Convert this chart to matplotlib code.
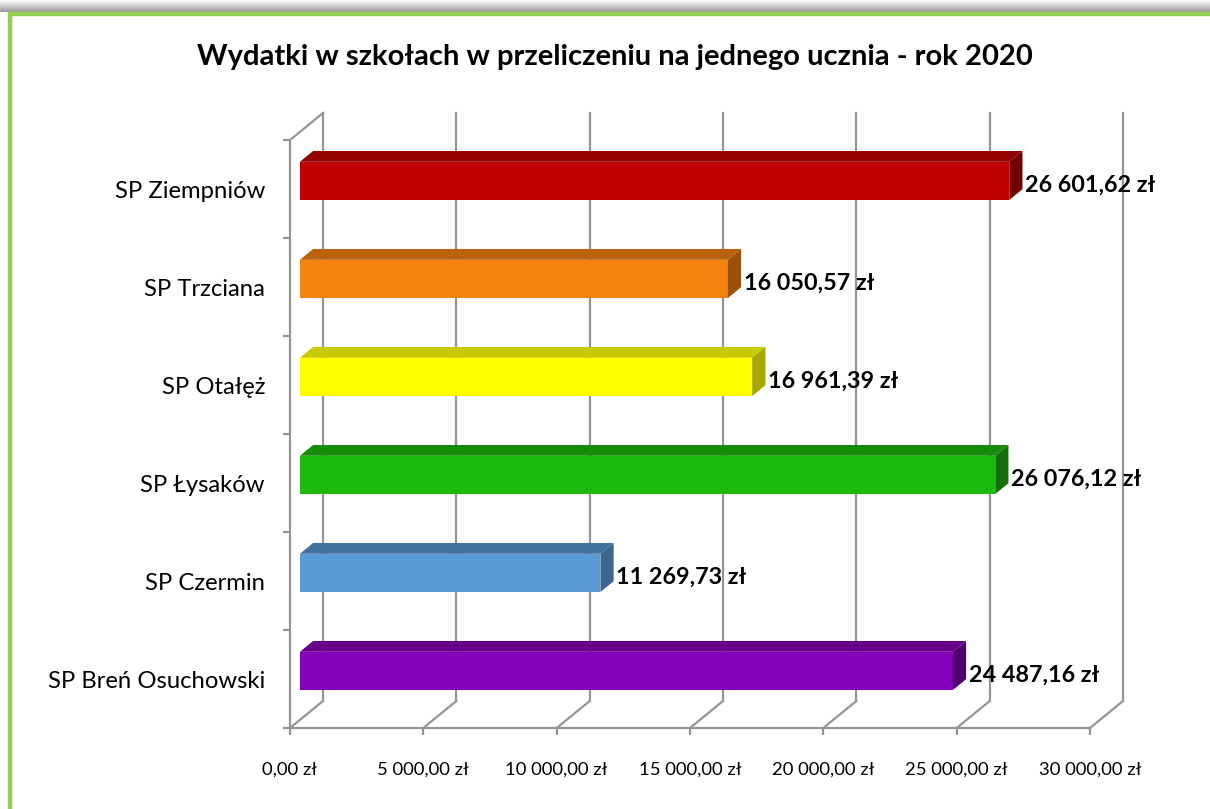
import matplotlib
matplotlib.use('Agg')
import matplotlib.pyplot as plt
from matplotlib.patches import Polygon, Rectangle
import numpy as np

# data (bottom to top as drawn)
schools = ['SP Breń Osuchowski', 'SP Czermin', 'SP Łysaków', 'SP Otałęż', 'SP Trzciana', 'SP Ziempniów']
values = [24487.16, 11269.73, 26076.12, 16961.39, 16050.57, 26601.62]
front_colors = ['#8500BA', '#5B9BD5', '#1DB90C', '#FFFF00', '#F4820F', '#C00000']
top_colors = ['#640089', '#41719C', '#178C08', '#CACA00', '#BA620D', '#920000']
side_colors = ['#4F006E', '#3A6690', '#127006', '#A8A800', '#9C5209', '#720000']
xticks = [0, 5000, 10000, 15000, 20000, 25000, 30000]
title = 'Wydatki w szkołach w przeliczeniu na jednego ucznia - rok 2020'

FONT = 'Lato'
GRID = '#959595'


def zl(v):
    return f"{v:,.2f}".replace(',', ' ').replace('.', ',') + ' zł'


fig = plt.figure(figsize=(12.1, 8.09), dpi=100)
W, H = 1210, 809

# shadow strip above the frame + green frame
sh = fig.add_axes([0, 1 - 12 / H, 1, 12 / H])
grad = np.linspace(1.0, 0.6, 50).reshape(-1, 1)
sh.imshow(grad, aspect='auto', cmap='gray', vmin=0, vmax=1, extent=[0, 1, 0, 1], origin='upper')
sh.axis('off')
fig.patches.append(Rectangle((10 / W, -0.05), 1.2, 1 - 14 / H + 0.05, transform=fig.transFigure,
                             fill=False, edgecolor='#92D050', linewidth=3.2, zorder=10))

ax = fig.add_axes([290 / W, 81 / H, 800 / W, 588 / H])
n = len(schools)
ax.set_xlim(0, 30000)
ax.set_ylim(0, n)

# depth of the 3D box in data units
DX = 33 / 800 * 30000
DY = 27 / 588 * n
f, b = 0.3, 0.7      # bar front / back depth fraction
h = 0.39             # bar thickness

# back wall gridlines and floor diagonals
for v in xticks:
    ax.plot([v + DX, v + DX], [DY, n + DY], color=GRID, lw=1.6, zorder=1, clip_on=False)
    ax.plot([v, v + DX], [0, DY], color=GRID, lw=1.6, zorder=1, clip_on=False)
ax.plot([0, DX], [n, n + DY], color=GRID, lw=1.6, zorder=1, clip_on=False)

# bars
for i, (v, fc, tc, sc) in enumerate(zip(values, front_colors, top_colors, side_colors)):
    c = i + 0.5
    yb, yt = c - h / 2, c + h / 2
    ax.add_patch(Polygon([(f * DX, yb + f * DY), (v + f * DX, yb + f * DY),
                          (v + f * DX, yt + f * DY), (f * DX, yt + f * DY)],
                         closed=True, facecolor=fc, edgecolor='none', zorder=3, clip_on=False))
    ax.add_patch(Polygon([(f * DX, yt + f * DY), (v + f * DX, yt + f * DY),
                          (v + b * DX, yt + b * DY), (b * DX, yt + b * DY)],
                         closed=True, facecolor=tc, edgecolor='none', zorder=3, clip_on=False))
    ax.add_patch(Polygon([(v + f * DX, yb + f * DY), (v + b * DX, yb + b * DY),
                          (v + b * DX, yt + b * DY), (v + f * DX, yt + f * DY)],
                         closed=True, facecolor=sc, edgecolor='none', zorder=3, clip_on=False))
    ax.annotate(zl(v), xy=(v + b * DX, c + 0.15 * DY), xytext=(2, 0), textcoords='offset points',
                ha='left', va='center', fontsize=16.8, fontweight='bold', family=FONT,
                annotation_clip=False, zorder=4)

# axes, ticks and labels
for s in ['top', 'right']:
    ax.spines[s].set_visible(False)
for s in ['left', 'bottom']:
    ax.spines[s].set_color(GRID)
    ax.spines[s].set_linewidth(1.6)
ax.set_xticks(xticks)
ax.set_xticklabels([zl(v) for v in xticks], family=FONT, fontsize=13.3)
ax.set_yticks(np.arange(n + 1))
ax.set_yticklabels([])
ax.set_yticks(np.arange(n) + 0.5, minor=True)
ax.set_yticklabels(schools, minor=True, family=FONT, fontsize=17.2)
ax.tick_params(axis='x', length=5, width=1.6, color=GRID, pad=19)
ax.tick_params(axis='y', which='major', length=5, width=1.6, color=GRID)
ax.tick_params(axis='y', which='minor', length=0, pad=18)
ax.patch.set_visible(False)

fig.text(615 / W, 1 - 57 / H, title, ha='center', va='center', fontsize=21,
         fontweight='bold', family=FONT)

fig.savefig('out.png', dpi=100)
